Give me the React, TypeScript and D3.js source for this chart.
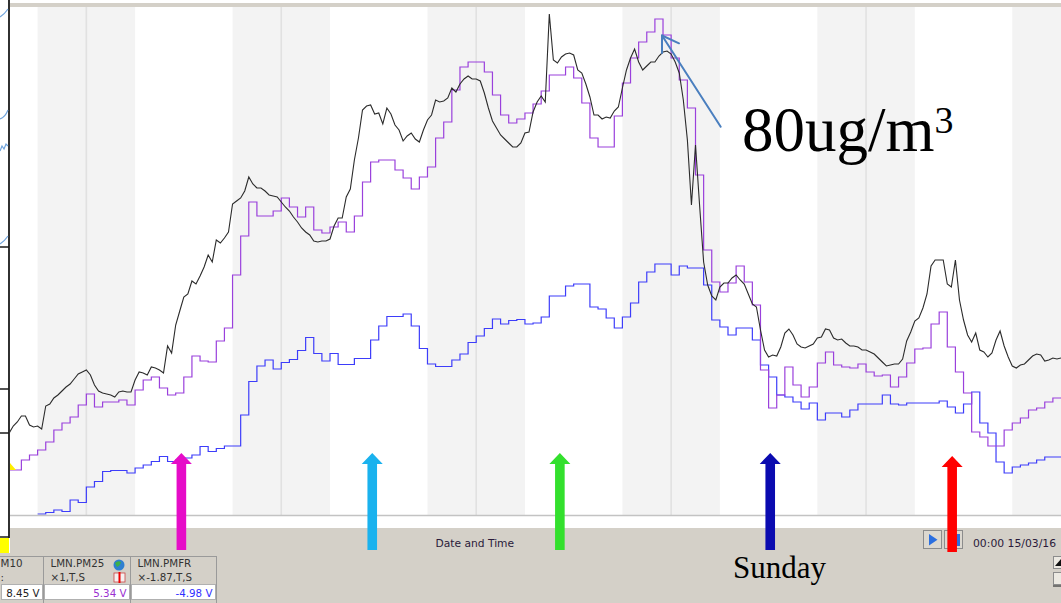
import React from 'react';
import * as d3 from 'd3';

const W = 1061;
const H = 603;

// time axis in hours from the first midnight shown
const HOUR_DOMAIN = [-9.4, 120];
const VALUE_DOMAIN = [0, 101.6];

// LMN.PM10 (black) – half-hourly, starting at -9.5 h
const PM10_START = -9.5;
const PM10_STEP = 0.5;
const pm10 = [
  16.4, 17.8, 18.6, 19.8, 19.8, 18.0, 17.6, 17.8, 17.2, 21.8,
  22.2, 23.4, 24.0, 24.8, 25.6, 26.2, 27.2, 28.2, 28.6, 29.0,
  28.0, 26.0, 24.8, 24.4, 24.2, 24.0, 23.6, 24.6, 24.8, 24.6,
  24.6, 27.0, 28.6, 28.4, 28.0, 29.6, 29.4, 29.0, 28.4, 33.8,
  32.4, 38.0, 40.8, 43.6, 44.2, 46.8, 46.2, 47.8, 49.6, 52.0,
  50.6, 55.0, 54.4, 55.4, 56.6, 62.2, 62.8, 63.4, 64.8, 67.6,
  66.2, 65.4, 65.4, 64.8, 64.0, 63.8, 63.6, 62.6, 61.6, 60.8,
  59.6, 58.6, 57.4, 56.6, 56.0, 54.8, 54.6, 54.8, 54.8, 55.2,
  57.8, 59.4, 59.4, 63.6, 65.2, 71.0, 75.4, 81.0, 81.8, 82.0,
  80.2, 80.4, 78.2, 81.4, 80.2, 78.0, 77.0, 74.8, 75.8, 76.4,
  75.2, 74.6, 77.0, 79.0, 80.0, 83.0, 82.6, 82.8, 83.4, 85.4,
  84.6, 86.2, 87.2, 87.8, 87.2, 87.2, 86.8, 84.4, 81.4, 78.8,
  77.4, 76.0, 75.2, 74.4, 73.6, 73.6, 74.4, 76.4, 76.6, 80.6,
  82.6, 83.8, 82.6, 100.2, 91.0, 90.4, 91.6, 92.2, 92.4, 92.0,
  89.0, 88.4, 86.2, 83.6, 80.0, 80.0, 79.2, 79.6, 79.4, 80.8,
  81.6, 85.4, 89.0, 91.4, 93.2, 90.6, 89.0, 89.8, 90.6, 90.6,
  91.8, 92.6, 92.8, 92.2, 90.6, 88.4, 83.0, 75.0, 62.0, 74.0,
  62.0, 50.6, 46.0, 43.8, 43.0, 45.6, 46.4, 46.4, 47.4, 48.0,
  47.0, 46.2, 44.2, 42.2, 41.6, 37.0, 33.0, 31.6, 32.0, 31.8,
  33.6, 36.4, 37.2, 36.0, 34.2, 33.6, 33.4, 33.8, 34.2, 35.4,
  35.6, 37.2, 37.0, 35.4, 35.0, 35.2, 34.4, 33.8, 33.8, 33.6,
  33.0, 33.0, 32.6, 32.2, 31.4, 30.6, 29.8, 30.0, 30.2, 30.2,
  31.2, 34.8, 36.6, 38.8, 39.4, 41.4, 44.2, 49.8, 51.0, 51.0,
  51.0, 46.2, 45.6, 51.0, 43.0, 39.0, 36.0, 34.6, 36.4, 33.0,
  32.6, 31.6, 32.4, 35.0, 36.8, 33.8, 31.6, 29.8, 29.4, 30.0,
  30.2, 31.0, 31.8, 32.2, 32.0, 30.8, 31.0, 31.4, 31.2, 31.4,
];

// LMN.PM25 (purple) – hourly, starting at -10 h
const PM25_START = -10;
const pm25 = [
  9.0, 9.0, 11.0, 12.0, 13.0, 14.6, 17.0, 18.4, 19.6, 22.0,
  24.2, 21.6, 22.6, 22.6, 23.0, 22.0, 25.0, 27.0, 27.6, 25.4,
  24.0, 24.4, 27.6, 31.8, 30.8, 30.6, 34.8, 37.4, 48.0, 55.8,
  62.6, 59.8, 59.8, 60.8, 63.4, 61.6, 59.6, 61.6, 57.0, 56.4,
  57.6, 58.6, 56.6, 59.8, 66.6, 70.6, 71.0, 71.0, 69.0, 67.4,
  65.2, 67.6, 69.6, 75.4, 78.6, 85.0, 89.6, 90.6, 90.6, 88.6,
  84.0, 80.0, 78.4, 79.2, 80.4, 82.2, 84.8, 88.0, 88.0, 89.6,
  87.4, 82.4, 75.4, 73.6, 73.6, 79.8, 86.4, 91.4, 94.6, 96.6,
  99.2, 96.0, 91.4, 87.0, 81.4, 68.0, 53.0, 46.6, 44.6, 46.4,
  49.8, 46.6, 42.0, 29.0, 21.4, 24.0, 29.6, 26.0, 23.6, 25.6,
  30.4, 32.6, 30.0, 29.6, 29.4, 30.2, 28.6, 27.8, 28.0, 25.6,
  27.6, 30.4, 33.2, 33.4, 38.2, 40.6, 33.6, 28.6, 24.4, 16.6,
  15.6, 13.8, 13.8, 17.0, 18.4, 19.4, 21.0, 21.4, 22.6, 23.4,
  23.4,
];

// LMN.PMFR (blue) – hourly, starting at -6 h
const PMFR_START = -6;
const pmfr = [
  0.2, 0.5, 1.0, 0.7, 3.0, 2.5,
  5.6, 6.7, 8.7, 8.9, 8.9, 8.4, 9.4, 10.0, 10.7, 11.7,
  10.7, 11.0, 11.4, 12.0, 13.7, 12.7, 13.3, 13.8, 13.8, 20.0,
  26.7, 29.8, 31.0, 29.2, 30.5, 31.1, 32.9, 35.5, 32.3, 30.8,
  32.3, 30.1, 30.1, 31.3, 31.3, 35.0, 37.8, 39.7, 39.7, 40.2,
  37.8, 33.3, 30.2, 29.7, 29.7, 31.0, 32.2, 34.5, 35.8, 37.3,
  39.2, 38.2, 38.9, 39.1, 38.2, 38.4, 39.6, 43.8, 43.8, 45.8,
  46.2, 46.2, 41.6, 41.2, 39.4, 37.4, 39.6, 42.4, 46.6, 48.6,
  50.2, 50.2, 48.0, 49.8, 49.4, 49.4, 46.0, 39.0, 37.6, 36.0,
  37.4, 37.4, 35.0, 30.0, 27.6, 24.0, 23.6, 22.6, 21.2, 22.4,
  19.0, 20.4, 20.4, 19.6, 21.0, 22.2, 22.2, 22.2, 24.0, 22.2,
  22.0, 22.4, 22.4, 22.4, 22.4, 22.8, 21.6, 20.4, 22.2, 24.6,
  18.4, 16.4, 10.6, 8.4, 9.6, 10.0, 10.4, 11.0, 11.6, 11.6,
  11.6,
];

// night shading (18:00–06:00) and midnight grid lines, in hours
const nightStarts = [-6, 18, 42, 66, 90, 114];
const nightLength = 12;
const midnights = [0, 24, 48, 72, 96];

// annotation arrows (hour position, colour)
const arrowHours = [11.7, 35.2, 58.3, 84.2, 106.6];
const arrowColors = ['#e60cc8', '#1ab2ee', '#33e02d', '#0b0bb0', '#ff0000'];

// legend table (first column is cut off by the window edge)
const channelNames = ['M10', 'LMN.PM25', 'LMN.PMFR'];
const channelScales = [':', '×1,T,S', '×-1.87,T,S'];
const channelReadings = ['8.45 V', '5.34 V', '-4.98 V'];
const channelColors = ['#222222', '#9a30d0', '#2f2fff'];

export default function App() {
  const x = d3.scaleLinear().domain(HOUR_DOMAIN).range([10, 1061]);
  const y = d3.scaleLinear().domain(VALUE_DOMAIN).range([515, 7]);

  const lineLin = d3
    .line<[number, number]>()
    .x((d) => x(d[0]))
    .y((d) => y(d[1]))
    .curve(d3.curveLinear);
  const lineStep = d3
    .line<[number, number]>()
    .x((d) => x(d[0]))
    .y((d) => y(d[1]))
    .curve(d3.curveStepAfter);

  const pm10Pts = pm10.map((v, i) => [PM10_START + i * PM10_STEP, v] as [number, number]);
  const pm25Pts = pm25.map((v, i) => [PM25_START + i, v] as [number, number]);
  const pmfrPts = pmfr.map((v, i) => [PMFR_START + i, v] as [number, number]);

  const tan = '#d4d0c8';
  const uiFont = 'DejaVu Sans, Verdana, sans-serif';
  const serif = 'Liberation Serif, Times New Roman, serif';

  const colX = [0, 43, 130, 216];
  const textX = [0.5, 50.5, 137.5];

  const arrowPath = (cx: number, tip: number, bottom: number) => {
    const hw = 10.5;
    const sw = 4.8;
    const hh = 11;
    return `M${cx},${tip} L${cx + hw},${tip + hh} L${cx + sw},${tip + hh} L${cx + sw},${bottom} L${cx - sw},${bottom} L${cx - sw},${tip + hh} L${cx - hw},${tip + hh} Z`;
  };

  return (
    <div style={{ position: 'absolute', left: 0, top: 0 }}>
      <svg width={W} height={H} viewBox={`0 0 ${W} ${H}`} style={{ display: 'block' }}>
        <defs>
          <clipPath id="plotClip">
            <rect x={10} y={7} width={1051} height={508} />
          </clipPath>
        </defs>
        <rect x={0} y={0} width={W} height={H} fill="#ffffff" />

        {/* top frame bar */}
        <rect x={10} y={3} width={1051} height={4} fill={tan} />

        {/* plot area */}
        <g clipPath="url(#plotClip)">
          {nightStarts.map((s, i) => (
            <rect
              key={'n' + i}
              x={x(s)}
              y={7}
              width={x(s + nightLength) - x(s)}
              height={508}
              fill="#f3f3f3"
            />
          ))}
          {midnights.map((m, i) => (
            <line key={'m' + i} x1={x(m)} x2={x(m)} y1={7} y2={515} stroke="#e1e1e1" strokeWidth={1.6} />
          ))}
          <path d={lineStep(pmfrPts) || ''} fill="none" stroke="#3d3dfa" strokeWidth={1.2} />
          <path d={lineStep(pm25Pts) || ''} fill="none" stroke="#9a40dc" strokeWidth={1.2} />
          <path d={lineLin(pm10Pts) || ''} fill="none" stroke="#2b2b2b" strokeWidth={1.1} />
        </g>
        <polygon points="10,463 10,470 16,470" fill="#ffee00" />

        {/* plot bottom border */}
        <line x1={10} x2={1061} y1={515.5} y2={515.5} stroke="#c3c3c3" strokeWidth={1.6} />

        {/* bottom control panel */}
        <rect x={10} y={528} width={1051} height={75} fill={tan} />
        <rect x={0} y={553} width={10} height={50} fill={tan} />

        {/* left neighbour frame */}
        <line x1={9} x2={9} y1={0} y2={538} stroke="#1a1a1a" strokeWidth={1.8} />
        {[247, 389, 433, 537].map((ty, i) => (
          <line key={'t' + i} x1={0} x2={9} y1={ty} y2={ty} stroke="#1a1a1a" strokeWidth={1.5} />
        ))}
        <rect x={0} y={538} width={9} height={15} fill="#ffff00" />
        <path d="M0,17 C3,15 6,12 8,9" fill="none" stroke="#6fa3dc" strokeWidth={1.2} />
        <path d="M0,119 C3,118 6,115 8,110" fill="none" stroke="#6fa3dc" strokeWidth={1.2} />
        <path d="M0,151 L2,146 L4,149 L6,144 L8,146" fill="none" stroke="#6fa3dc" strokeWidth={1.2} />
        <path d="M0,244 C3,242 6,239 8,236" fill="none" stroke="#6fa3dc" strokeWidth={1.2} />

        <text x={435.5} y={547} fontFamily={uiFont} fontSize={10.7} fill="#2a1a3a">
          Date and Time
        </text>

        {/* play buttons */}
        <rect x={923.5} y={530.5} width={18} height={18} fill="#dcd8d0" stroke="#8c8c8c" />
        <polygon points="929,534 929,545.5 937.5,539.7" fill="#2b6fe0" />
        <rect x={944.5} y={530.5} width={18} height={18} fill="#dcd8d0" stroke="#8c8c8c" />
        <rect x={956} y={534} width={4} height={12} fill="#2b6fe0" />
        <text x={973} y={547} fontFamily={uiFont} fontSize={10.8} fill="#2a1a3a">
          00:00 15/03/16
        </text>

        {/* right scroll widget */}
        <rect x={1053.5} y={556.5} width={8} height={12} fill="#ece9e2" stroke="#8c8c8c" />
        <polygon points="1055,566 1061,566 1061,559" fill="#111" />
        <rect x={1053.5} y={572.5} width={8} height={12} fill="#ece9e2" stroke="#8c8c8c" />
        <line x1={1053} x2={1061} y1={586} y2={586} stroke="#555" strokeWidth={1.5} />

        {/* legend table */}
        <line x1={0} x2={216} y1={556.5} y2={556.5} stroke="#9a9a9a" />
        {colX.slice(1).map((cx, i) => (
          <line key={'c' + i} x1={cx + 0.5} x2={cx + 0.5} y1={556} y2={603} stroke="#9a9a9a" />
        ))}
        {colX.slice(0, 3).map((cx, i) => (
          <rect
            key={'v' + i}
            x={cx + 1.5}
            y={584.5}
            width={colX[i + 1] - cx - 2}
            height={15}
            fill="#ffffff"
            stroke="#b0b0b0"
          />
        ))}
        {channelNames.map((nm, i) => (
          <g key={'h' + i}>
            <text x={textX[i]} y={567} fontFamily={uiFont} fontSize={10.3} fill="#333">
              {nm}
            </text>
            <text x={textX[i]} y={581} fontFamily={uiFont} fontSize={10.3} fill="#333">
              {channelScales[i]}
            </text>
          </g>
        ))}
        {channelReadings.map((r, i) => (
          <text
            key={'r' + i}
            x={colX[i + 1] - 3.5}
            y={597}
            fontFamily={uiFont}
            fontSize={10.3}
            fill={channelColors[i]}
            textAnchor="end"
          >
            {r}
          </text>
        ))}
        {/* small icons in PM25 header */}
        <circle cx={119} cy={565} r={5.5} fill="#2f7fd0" />
        <path d="M115,563 Q118,560 121,562 Q120,566 117,567 Z" fill="#3cb04a" />
        <rect x={114} y={573} width={11} height={9} fill="#f4f0f0" stroke="#c44" strokeWidth={0.8} />
        <line x1={119.5} x2={119.5} y1={572} y2={583} stroke="#e00" strokeWidth={2} />

        {/* coloured arrows */}
        {arrowHours.map((h, i) => (
          <path
            key={'a' + i}
            d={arrowPath(x(h), i === 4 ? 456 : 453, i === 4 ? 552 : 550)}
            fill={arrowColors[i]}
          />
        ))}

        {/* annotations */}
        <text x={733} y={578} fontFamily={serif} fontSize={31} fill="#000">
          Sunday
        </text>
        <text x={742} y={151} fontFamily={serif} fontSize={63} fill="#000">
          80ug/m
          <tspan dy={-18} fontSize={38}>
            3
          </tspan>
        </text>
        <g stroke="#4a7fbf" strokeWidth={2} fill="none" strokeLinecap="round">
          <line x1={720.7} y1={126.7} x2={662} y2={35.5} />
          <line x1={662} y1={35.5} x2={679} y2={43.3} />
          <line x1={662} y1={35.5} x2={662} y2={53} />
        </g>
      </svg>
    </div>
  );
}
